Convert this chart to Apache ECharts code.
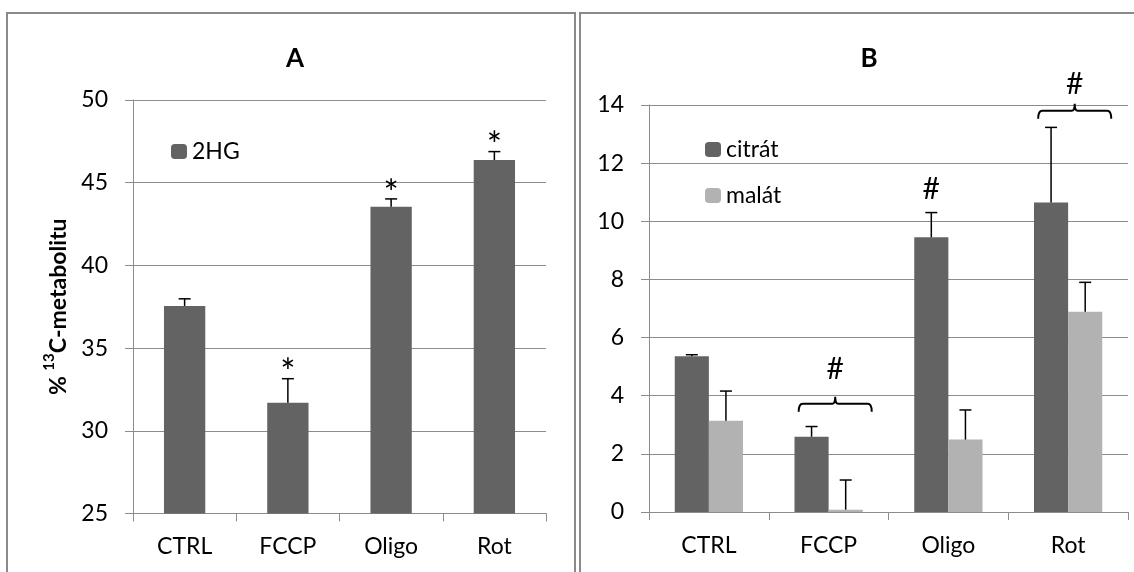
<!DOCTYPE html>
<html>
<head>
<meta charset="utf-8">
<script src="https://cdn.jsdelivr.net/npm/echarts@6/dist/echarts.min.js"></script>
<style>
html,body{margin:0;padding:0;background:#fff;}
#chart{width:1134px;height:572px;}
</style>
</head>
<body>
<div id="chart"></div>
<script>
// ---- data ----
const categories = ['CTRL', 'FCCP', 'Oligo', 'Rot'];
const hg2 = [37.55, 31.7, 43.54, 46.37];
const hg2ErrTop = [37.98, 33.15, 44.02, 46.88];
const citrat = [5.36, 2.59, 9.45, 10.65];
const citratErrTop = [5.41, 2.94, 10.3, 13.23];
const malat = [3.14, 0.08, 2.49, 6.89];
const malatErrTop = [4.16, 1.10, 3.51, 7.90];
const starsA = ['FCCP', 'Oligo', 'Rot'];
const hashSingle = [['Oligo', 11.1]];           // [category, level] above citrát bar
const hashBrackets = [['FCCP', 3.72, 4.9], ['Rot', 13.8, 14.72]]; // [category, bracket level, hash level]
const yRangeA = [25, 50, 5];
const yRangeB = [0, 14, 2];

// ---- style ----
const FONT = 'Lato';
const DARK = '#636363';
const LIGHT = '#b2b2b2';
const GRID = '#8c8c8c';
const FS = 23;

const chart = echarts.init(document.getElementById('chart'));

function catAxis(gridIndex) {
  return {
    type: 'category', gridIndex, data: categories,
    axisLine: {show: true, lineStyle: {color: GRID, width: 1}},
    axisTick: {show: true, length: 8, lineStyle: {color: GRID}},
    axisLabel: {color: '#000', fontFamily: FONT, fontSize: FS, margin: 22},
    splitLine: {show: false}
  };
}
function valAxis(gridIndex, r, extra) {
  return Object.assign({
    type: 'value', gridIndex, min: r[0], max: r[1], interval: r[2],
    axisLine: {show: true, lineStyle: {color: GRID, width: 1}},
    axisTick: {show: true, length: 8, lineStyle: {color: GRID}},
    axisLabel: {color: '#000', fontFamily: FONT, fontSize: FS, margin: 25},
    splitLine: {show: true, lineStyle: {color: GRID, width: 1}}
  }, extra || {});
}

function errRender(offsetFrac) {
  return function (params, api) {
    const i = api.value(0);
    const bw = api.size([1, 0])[0];
    const base = api.coord([i, api.value(1)]);
    const top = api.coord([i, api.value(2)]);
    const x = base[0] + bw * offsetFrac;
    const cap = 6;
    return {
      type: 'group',
      children: [
        {type: 'line', shape: {x1: x, y1: base[1], x2: x, y2: top[1]}, style: {stroke: '#000', lineWidth: 1.5}},
        {type: 'line', shape: {x1: x - cap, y1: top[1], x2: x + cap, y2: top[1]}, style: {stroke: '#000', lineWidth: 1.5}}
      ]
    };
  };
}

const option = {
  animation: false,
  backgroundColor: '#fff',
  textStyle: {fontFamily: FONT},
  graphic: [
    {type: 'rect', shape: {x: 7, y: 13, width: 568, height: 620}, style: {fill: 'none', stroke: '#8a8a8a', lineWidth: 2}, silent: true},
    {type: 'rect', shape: {x: 580, y: 13, width: 620, height: 620}, style: {fill: 'none', stroke: '#8a8a8a', lineWidth: 2}, silent: true}
  ],
  title: [
    {text: 'A', left: 290, top: 41, textAlign: 'center', textStyle: {fontFamily: FONT, fontWeight: 'bold', fontSize: 26, color: '#000'}},
    {text: 'B', left: 864, top: 41, textAlign: 'center', textStyle: {fontFamily: FONT, fontWeight: 'bold', fontSize: 26, color: '#000'}}
  ],
  legend: [
    {data: ['2HG'], left: 166, top: 135, itemWidth: 16, itemHeight: 15, itemGap: 6,
     textStyle: {fontFamily: FONT, fontSize: FS, color: '#000', padding: [0, 0, 0, 0]}},
    {data: ['citrát', 'malát'], orient: 'vertical', left: 700, top: 133, itemWidth: 16, itemHeight: 15, itemGap: 23,
     textStyle: {fontFamily: FONT, fontSize: FS, color: '#000', padding: [0, 0, 0, 0]}}
  ],
  grid: [
    {left: 133, top: 100, width: 413, height: 413.5},
    {left: 649, top: 105, width: 479, height: 407}
  ],
  xAxis: [catAxis(0), catAxis(1)],
  yAxis: [
    valAxis(0, yRangeA, {
      name: '{a|% }{s|13}{a|C-metabolitu}', nameLocation: 'middle', nameGap: 63, nameRotate: 90,
      nameTextStyle: {
        fontFamily: FONT, fontWeight: 'bold', color: '#000',
        rich: {
          a: {fontFamily: FONT, fontWeight: 'bold', fontSize: 23, lineHeight: 28, verticalAlign: 'bottom', color: '#000'},
          s: {fontFamily: FONT, fontWeight: 'bold', fontSize: 15, lineHeight: 28, verticalAlign: 'top', color: '#000', padding: [0, 0, 9, 0]}
        }
      }
    }),
    valAxis(1, yRangeB)
  ],
  series: [
    {name: '2HG', type: 'bar', xAxisIndex: 0, yAxisIndex: 0, data: hg2, barWidth: '40%',
     itemStyle: {color: DARK}},
    {type: 'custom', xAxisIndex: 0, yAxisIndex: 0, z: 10,
     data: categories.map((c, i) => [i, hg2[i], hg2ErrTop[i]]),
     renderItem: errRender(0)},
    {type: 'custom', xAxisIndex: 0, yAxisIndex: 0, z: 11,
     data: starsA.map(c => { const i = categories.indexOf(c); return [i, hg2ErrTop[i]]; }),
     renderItem: function (params, api) {
       const p = api.coord([api.value(0), api.value(1)]);
       return {type: 'text', style: {text: '*', x: p[0], y: p[1] + 13, align: 'center', verticalAlign: 'bottom',
         font: '36px ' + FONT, fill: '#000'}};
     }},
    {name: 'citrát', type: 'bar', xAxisIndex: 1, yAxisIndex: 1, data: citrat, barGap: '0%', barCategoryGap: '43%',
     itemStyle: {color: DARK}},
    {name: 'malát', type: 'bar', xAxisIndex: 1, yAxisIndex: 1, data: malat, barGap: '0%', barCategoryGap: '43%',
     itemStyle: {color: LIGHT}},
    {type: 'custom', xAxisIndex: 1, yAxisIndex: 1, z: 10,
     data: categories.map((c, i) => [i, citrat[i], citratErrTop[i]]),
     renderItem: errRender(-0.1425)},
    {type: 'custom', xAxisIndex: 1, yAxisIndex: 1, z: 10,
     data: categories.map((c, i) => [i, malat[i], malatErrTop[i]]),
     renderItem: errRender(0.1425)},
    {type: 'custom', xAxisIndex: 1, yAxisIndex: 1, z: 11,
     data: hashSingle.map(h => [categories.indexOf(h[0]), h[1]]),
     renderItem: function (params, api) {
       const bw = api.size([1, 0])[0];
       const p = api.coord([api.value(0), api.value(1)]);
       return {type: 'text', style: {text: '#', x: p[0] - bw * 0.1425, y: p[1], align: 'center', verticalAlign: 'middle',
         font: '30px ' + FONT, fill: '#000'}};
     }},
    {type: 'custom', xAxisIndex: 1, yAxisIndex: 1, z: 11,
     data: hashBrackets.map(h => [categories.indexOf(h[0]), h[1], h[2]]),
     renderItem: function (params, api) {
       const bw = api.size([1, 0])[0];
       const p = api.coord([api.value(0), api.value(1)]);
       const ph = api.coord([api.value(0), api.value(2)]);
       const L = p[0] - bw * 0.25, R = p[0] + bw * 0.36, M = p[0] + bw * 0.055, y = p[1];
       const d = 'M' + L + ',' + (y + 8) + ' Q' + L + ',' + y + ' ' + (L + 4) + ',' + y +
         ' L' + (M - 3) + ',' + y + ' Q' + M + ',' + y + ' ' + M + ',' + (y - 7) +
         ' Q' + M + ',' + y + ' ' + (M + 3) + ',' + y +
         ' L' + (R - 4) + ',' + y + ' Q' + R + ',' + y + ' ' + R + ',' + (y + 8);
       return {type: 'group', children: [
         {type: 'path', shape: {pathData: d}, style: {fill: 'none', stroke: '#000', lineWidth: 2}},
         {type: 'text', style: {text: '#', x: M, y: ph[1], align: 'center', verticalAlign: 'middle',
           font: '30px ' + FONT, fill: '#000'}}
       ]};
     }}
  ]
};
chart.setOption(option);
</script>
</body>
</html>
